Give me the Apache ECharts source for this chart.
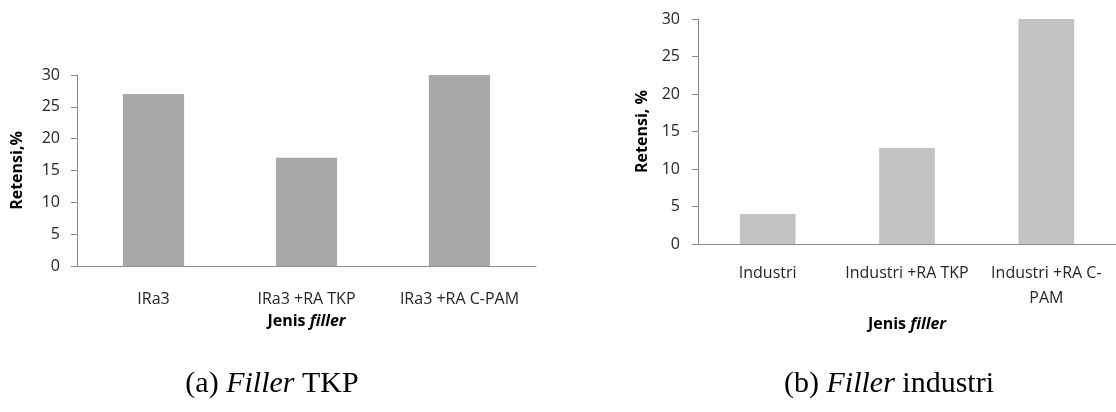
<!DOCTYPE html>
<html>
<head>
<meta charset="utf-8">
<script src="https://cdn.jsdelivr.net/npm/echarts@6/dist/echarts.min.js"></script>
<style>html,body{margin:0;padding:0;background:#fff}#c{width:1116px;height:412px}</style>
</head>
<body>
<div id="c"></div>
<script>
const catsA = ['IRa3', 'IRa3 +RA TKP', 'IRa3 +RA C-PAM'];
const valsA = [27, 17, 30];
const catsB = ['Industri', 'Industri +RA TKP', 'Industri +RA C-\nPAM'];
const valsB = [4, 12.8, 30];
const yTicks = [0, 5, 10, 15, 20, 25, 30];

const FONT = 'Open Sans';
const txt = '#262626';
const axisCol = '#8c8c8c';

const chart = echarts.init(document.getElementById('c'));
function yAxis(idx, gap, nameGap, name) {
  return {
    type: 'value', gridIndex: idx, min: yTicks[0], max: yTicks[yTicks.length-1], interval: 5,
    name: name, nameLocation: 'middle', nameGap: nameGap, nameRotate: 90,
    nameTextStyle: {fontFamily: FONT, fontWeight: 'bold', fontSize: 16, color: '#000'},
    axisLine: {show: true, lineStyle: {color: axisCol, width: 1}},
    axisTick: {show: true, inside: false, length: 6, lineStyle: {color: axisCol}},
    axisLabel: {margin: gap, fontFamily: FONT, fontSize: 16, color: txt},
    splitLine: {show: false}
  };
}
function xAxis(idx, cats, margin, nameGap) {
  return {
    type: 'category', gridIndex: idx, data: cats,
    name: '{b|Jenis }{i|filler}', nameLocation: 'middle', nameGap: nameGap,
    nameTextStyle: {rich: {
      b: {fontFamily: FONT, fontWeight: 'bold', fontSize: 16, color: '#000'},
      i: {fontFamily: FONT, fontWeight: 'bold', fontStyle: 'italic', fontSize: 16, color: '#000'}
    }},
    axisLine: {show: true, lineStyle: {color: axisCol, width: 1}},
    axisTick: {show: false},
    axisLabel: {margin: margin, fontFamily: FONT, fontSize: 16, color: txt, interval: 0, lineHeight: 25},
    splitLine: {show: false}
  };
}
const capRich = {
  n: {fontFamily: 'Liberation Serif', fontSize: 30, fontWeight: 'normal', color: '#000'},
  i: {fontFamily: 'Liberation Serif', fontSize: 30, fontWeight: 'normal', fontStyle: 'italic', color: '#000'}
};
chart.setOption({
  animation: false,
  backgroundColor: '#fff',
  title: [
    {text: '{n|(a) }{i|Filler}{n| TKP}', left: 267, top: 364, textAlign: 'center', textStyle: {fontWeight: 'normal', rich: capRich}},
    {text: '{n|(b) }{i|Filler}{n| industri}', left: 884, top: 364, textAlign: 'center', textStyle: {fontWeight: 'normal', rich: capRich}}
  ],
  grid: [
    {left: 77, top: 75, right: 580, bottom: 146},
    {left: 698, top: 19, right: 0, bottom: 168}
  ],
  xAxis: [xAxis(0, catsA, 21, 47), xAxis(1, catsB, 17, 72)],
  yAxis: [yAxis(0, 17, 52, 'Retensi,%'), yAxis(1, 18, 48, 'Retensi, %')],
  series: [
    {type: 'bar', xAxisIndex: 0, yAxisIndex: 0, data: valsA, barWidth: '40%', itemStyle: {color: '#a9a9a9'}},
    {type: 'bar', xAxisIndex: 1, yAxisIndex: 1, data: valsB, barWidth: '40%', itemStyle: {color: '#c3c3c3'}}
  ]
});
</script>
</body>
</html>
